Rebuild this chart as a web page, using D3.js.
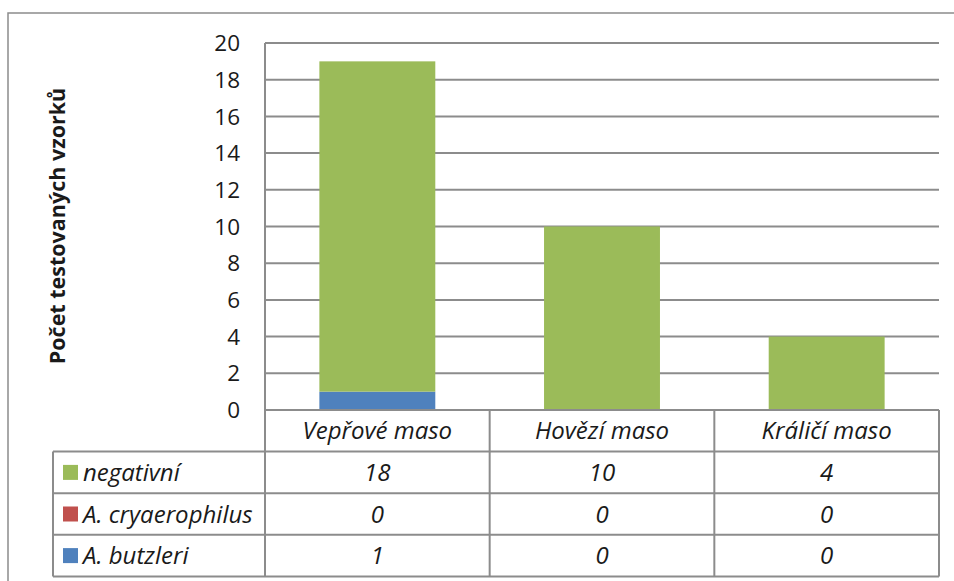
<!DOCTYPE html>
<html>
<head>
<meta charset="utf-8">
<script src="https://cdn.jsdelivr.net/npm/d3@7"></script>
<style>
  body { margin: 0; background: #fff; }
  text { font-family: "Open Sans", sans-serif; fill: #1a1a1a; }
</style>
</head>
<body>
<div id="chart"></div>
<script>
const width = 954;
const height = 581;

const categories = ["Vepřové maso", "Hovězí maso", "Králičí maso"];
const seriesNames = ["negativní", "A. cryaerophilus", "A. butzleri"];
const negativni = [18, 10, 4];
const cryaerophilus = [0, 0, 0];
const butzleri = [1, 0, 0];
const yTicks = [0, 2, 4, 6, 8, 10, 12, 14, 16, 18, 20];

const colors = {
    "negativní": "#9bbb59",
    "A. cryaerophilus": "#c0504d",
    "A. butzleri": "#4f81bd"
};
const values = {
    "negativní": negativni,
    "A. cryaerophilus": cryaerophilus,
    "A. butzleri": butzleri
};

const rows = categories.map((c, i) => ({
    cat: c,
    "negativní": negativni[i],
    "A. cryaerophilus": cryaerophilus[i],
    "A. butzleri": butzleri[i]
}));

const plot = { left: 265, right: 939, top: 43, bottom: 410 };
const legendLeft = 53;
const rowH = 41.6;
const gridColor = "#8c8c8c";

const svg = d3.select("#chart")
    .append("svg")
    .attr("width", width)
    .attr("height", height);

// outer chart border (cropped at right / bottom)
svg.append("rect")
    .attr("x", 8).attr("y", 13)
    .attr("width", width + 10).attr("height", height + 10)
    .attr("fill", "none")
    .attr("stroke", "#8c8c8c")
    .attr("stroke-width", 1.5);

const y = d3.scaleLinear().domain([0, 20]).range([plot.bottom, plot.top]);

const col = d3.scaleBand()
    .domain(categories)
    .range([plot.left, plot.right])
    .padding(0);

const x = d3.scaleBand()
    .domain(categories)
    .range([plot.left, plot.right])
    .paddingInner(0.484)
    .paddingOuter(0.242);

// gridlines
svg.append("g")
    .selectAll("line")
    .data(yTicks.filter(t => t > 0))
    .enter().append("line")
    .attr("x1", plot.left).attr("x2", plot.right)
    .attr("y1", d => y(d)).attr("y2", d => y(d))
    .attr("stroke", gridColor)
    .attr("stroke-width", 2);

// tick labels
svg.append("g")
    .selectAll("text")
    .data(yTicks)
    .enter().append("text")
    .attr("x", 240)
    .attr("y", d => y(d))
    .attr("dy", "0.36em")
    .attr("text-anchor", "end")
    .style("font-size", "22.5px")
    .text(d => d);

// stacked bars
const stack = d3.stack().keys(["A. butzleri", "A. cryaerophilus", "negativní"]);
const layers = stack(rows);

svg.append("g")
    .selectAll("g")
    .data(layers)
    .enter().append("g")
    .attr("fill", d => colors[d.key])
    .selectAll("rect")
    .data(d => d)
    .enter().append("rect")
    .attr("x", d => x(d.data.cat))
    .attr("width", x.bandwidth())
    .attr("y", d => y(d[1]))
    .attr("height", d => y(d[0]) - y(d[1]));

// y axis title
svg.append("text")
    .attr("transform", `translate(65,226) rotate(-90)`)
    .attr("text-anchor", "middle")
    .style("font-size", "21.5px")
    .style("font-weight", "bold")
    .text("Počet testovaných vzorků");

// data table
const table = svg.append("g");
const tableBottom = plot.bottom + rowH * 4;

// horizontal lines
table.append("line")
    .attr("x1", plot.left).attr("x2", plot.right)
    .attr("y1", plot.bottom).attr("y2", plot.bottom)
    .attr("stroke", gridColor).attr("stroke-width", 2);
[1, 2, 3, 4].forEach(i => {
    table.append("line")
        .attr("x1", legendLeft).attr("x2", plot.right)
        .attr("y1", plot.bottom + rowH * i).attr("y2", plot.bottom + rowH * i)
        .attr("stroke", gridColor).attr("stroke-width", 2);
});

// vertical lines
table.append("line")
    .attr("x1", plot.left).attr("x2", plot.left)
    .attr("y1", plot.top).attr("y2", tableBottom)
    .attr("stroke", gridColor).attr("stroke-width", 2);
table.append("line")
    .attr("x1", legendLeft).attr("x2", legendLeft)
    .attr("y1", plot.bottom + rowH).attr("y2", tableBottom)
    .attr("stroke", gridColor).attr("stroke-width", 2);
categories.forEach(c => {
    const xr = col(c) + col.bandwidth();
    table.append("line")
        .attr("x1", xr).attr("x2", xr)
        .attr("y1", plot.bottom).attr("y2", tableBottom)
        .attr("stroke", gridColor).attr("stroke-width", 2);
});

// header: categories
table.selectAll("text.cat")
    .data(categories)
    .enter().append("text")
    .attr("class", "cat")
    .attr("x", d => col(d) + col.bandwidth() / 2)
    .attr("y", plot.bottom + rowH / 2)
    .attr("dy", "0.36em")
    .attr("text-anchor", "middle")
    .style("font-size", "24px")
    .style("font-style", "italic")
    .text(d => d);

// series rows
seriesNames.forEach((s, i) => {
    const cy = plot.bottom + rowH * (i + 1) + rowH / 2;
    table.append("rect")
        .attr("x", 63).attr("y", cy - 7.5)
        .attr("width", 15).attr("height", 15)
        .attr("fill", colors[s]);
    table.append("text")
        .attr("x", 83).attr("y", cy)
        .attr("dy", "0.36em")
        .style("font-size", "24px")
        .style("font-style", "italic")
        .text(s);
    table.selectAll("text.v" + i)
        .data(values[s])
        .enter().append("text")
        .attr("class", "v" + i)
        .attr("x", (d, j) => col(categories[j]) + col.bandwidth() / 2)
        .attr("y", cy)
        .attr("dy", "0.36em")
        .attr("text-anchor", "middle")
        .style("font-size", "24px")
        .style("font-style", "italic")
        .text(d => d);
});
</script>
</body>
</html>
